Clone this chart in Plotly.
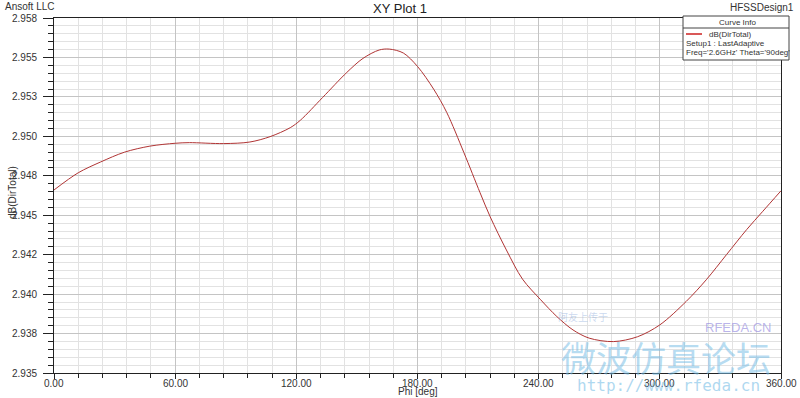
import plotly.graph_objects as go

# ---- data ----
phi_deg = [0, 12, 23, 35, 47.5, 60, 67, 84, 97, 107, 117, 122, 133, 145, 153, 161, 166,
           173, 180, 188, 194.5, 203, 211, 216, 224, 232, 241, 249, 257, 265, 277, 289,
           300, 313, 323, 333, 343, 351, 360]
db_dirtotal = [2.94660, 2.94769, 2.94837, 2.94900, 2.94938, 2.94956, 2.94960, 2.94954,
               2.94964, 2.94998, 2.95055, 2.95102, 2.95246, 2.95405, 2.95494, 2.95547,
               2.95553, 2.95528, 2.95443, 2.95299, 2.95151, 2.94896, 2.94642, 2.94490,
               2.94280, 2.94095, 2.93964, 2.93858, 2.93773, 2.93721, 2.93699, 2.93730,
               2.93805, 2.93953, 2.94091, 2.94250, 2.94409, 2.94525, 2.94655]
x_tickvals = [0, 60, 120, 180, 240, 300, 360]
x_ticktext = ["0.00", "60.00", "120.00", "180.00", "240.00", "300.00", "360.00"]
y_tickvals = [2.935, 2.9375, 2.940, 2.9425, 2.945, 2.9475, 2.950, 2.9525, 2.955, 2.9575]
y_ticktext = ["2.935", "2.938", "2.940", "2.942", "2.945", "2.948", "2.950", "2.953", "2.955", "2.958"]

FONT = "Arial, Liberation Sans, sans-serif"
W, H = 800, 398
L, R, T, B = 54, 19, 18, 25
PW, PH = W - L - R, H - T - B

def px(x):
    return (x - L) / PW

def py(y):
    return (H - B - y) / PH

fig = go.Figure()
fig.add_trace(go.Scatter(x=phi_deg, y=db_dirtotal, mode="lines",
                         line=dict(color="#b03434", width=1, shape="spline", smoothing=0.9),
                         showlegend=False, hoverinfo="x+y"))

fig.update_layout(
    width=W, height=H,
    margin=dict(l=L, r=R, t=T, b=B, autoexpand=False),
    paper_bgcolor="white", plot_bgcolor="white",
    font=dict(family=FONT, size=10, color="#333333"),
    xaxis=dict(range=[0, 360], tickvals=x_tickvals, showticklabels=False, automargin=False,
               ticks="outside", ticklen=5, tickcolor="#222",
               showline=True, linecolor="#222", linewidth=1, mirror=True,
               showgrid=True, gridcolor="#c4c4c4", gridwidth=1, zeroline=False,
               minor=dict(dtick=12, tick0=0, ticks="outside", ticklen=4, tickcolor="#222",
                          showgrid=True, gridcolor="#e2e2e2", gridwidth=1)),
    yaxis=dict(range=[2.935, 2.9575], tickvals=y_tickvals, showticklabels=False, automargin=False,
               ticks="outside", ticklen=10, tickcolor="#222",
               showline=True, linecolor="#222", linewidth=1, mirror=True,
               showgrid=True, gridcolor="#c4c4c4", gridwidth=1, zeroline=False,
               minor=dict(dtick=0.0005, tick0=2.935, ticks="outside", ticklen=5, tickcolor="#222",
                          showgrid=True, gridcolor="#e2e2e2", gridwidth=1)),
)

ann = []
# tick labels placed on the axis scales
for v, t in zip(x_tickvals, x_ticktext):
    ann.append(dict(text=t, x=v, y=py(383), xref="x", yref="paper", showarrow=False,
                    font=dict(size=10, color="#333"), xanchor="center", yanchor="middle"))
for v, t in zip(y_tickvals, y_ticktext):
    ann.append(dict(text=t, x=px(39), y=v, xref="paper", yref="y", showarrow=False,
                    font=dict(size=10, color="#333"), xanchor="right", yanchor="middle"))

# titles / corner texts
ann.append(dict(text="XY Plot 1", x=px(400), y=py(8), xref="paper", yref="paper",
                showarrow=False, font=dict(size=13, color="#222"), xanchor="center", yanchor="middle"))
ann.append(dict(text="Ansoft LLC", x=px(3), y=py(6), xref="paper", yref="paper",
                showarrow=False, font=dict(size=10, color="#333"), xanchor="left", yanchor="middle"))
ann.append(dict(text="HFSSDesign1", x=px(796), y=py(7), xref="paper", yref="paper",
                showarrow=False, font=dict(size=10, color="#333"), xanchor="right", yanchor="middle"))
ann.append(dict(text="Phi [deg]", x=px(418), y=py(391.5), xref="paper", yref="paper",
                showarrow=False, font=dict(size=10, color="#333"), xanchor="center", yanchor="middle"))
ann.append(dict(text="dB(DirTotal)", x=px(12), y=py(193), xref="paper", yref="paper", textangle=-90,
                showarrow=False, font=dict(size=10, color="#333"), xanchor="center", yanchor="middle"))

# curve info box
shapes = [
    dict(type="rect", xref="paper", yref="paper", x0=px(683), x1=px(789), y0=py(60), y1=py(16),
         line=dict(color="#444", width=1), fillcolor="white", layer="above"),
    dict(type="line", xref="paper", yref="paper", x0=px(683), x1=px(789), y0=py(28), y1=py(28),
         line=dict(color="#444", width=1), layer="above"),
    dict(type="line", xref="paper", yref="paper", x0=px(686), x1=px(702), y0=py(34), y1=py(34),
         line=dict(color="#cc2020", width=1.5), layer="above"),
]
ann.append(dict(text="Curve Info", x=px(737), y=py(22.5), xref="paper", yref="paper",
                showarrow=False, font=dict(size=8, color="#333"), xanchor="center", yanchor="middle"))
ann.append(dict(text="dB(DirTotal)", x=px(707), y=py(34), xref="paper", yref="paper",
                showarrow=False, font=dict(size=8, color="#333"), xanchor="left", yanchor="middle"))
ann.append(dict(text="Setup1 : LastAdaptive", x=px(684), y=py(43.5), xref="paper", yref="paper",
                showarrow=False, font=dict(size=8, color="#333"), xanchor="left", yanchor="middle"))
ann.append(dict(text="Freq='2.6GHz' Theta='90deg'", x=px(684), y=py(52.5), xref="paper", yref="paper",
                showarrow=False, font=dict(size=8, color="#333"), xanchor="left", yanchor="middle"))

# watermark
ann.append(dict(text="微波仿真论坛", x=px(666), y=py(356), xref="paper", yref="paper",
                showarrow=False, font=dict(size=35, color="rgba(120,190,230,0.55)",
                                           family="Noto Sans CJK SC"),
                xanchor="center", yanchor="middle"))
ann.append(dict(text="http://www.rfeda.cn", x=px(668), y=py(385), xref="paper", yref="paper",
                showarrow=False, font=dict(size=16, color="rgba(120,190,230,0.6)",
                                           family="DejaVu Sans Mono"),
                xanchor="center", yanchor="middle"))
ann.append(dict(text="RFEDA.CN", x=px(738), y=py(327), xref="paper", yref="paper",
                showarrow=False, font=dict(size=13, color="rgba(140,130,220,0.6)"),
                xanchor="center", yanchor="middle"))
ann.append(dict(text="阿友上传于", x=px(583), y=py(316), xref="paper", yref="paper",
                showarrow=False, font=dict(size=10, color="rgba(140,170,220,0.45)",
                                           family="Noto Sans CJK SC"),
                xanchor="center", yanchor="middle"))

fig.update_layout(annotations=ann, shapes=shapes)
fig.write_html("out.html", config={"displayModeBar": False},
               post_script="document.body.style.margin='0';document.body.style.overflow='hidden';")
